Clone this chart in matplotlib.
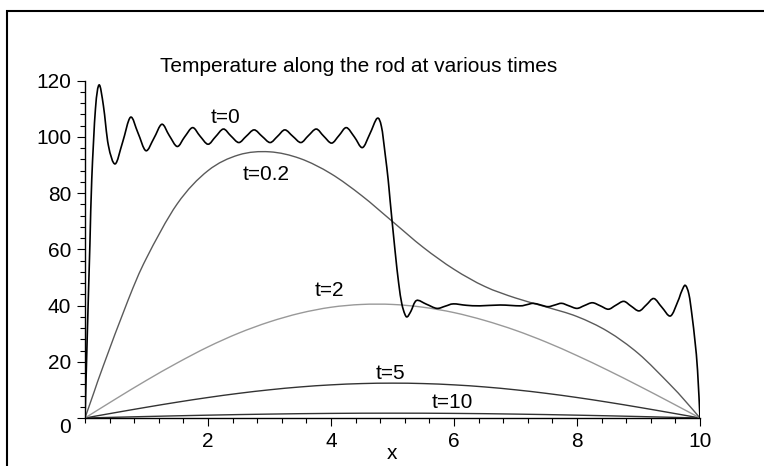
import numpy as np
import matplotlib
matplotlib.use('Agg')
from matplotlib import pyplot as plt
from matplotlib.patches import Rectangle, PathPatch
from matplotlib.path import Path
from matplotlib.ticker import MultipleLocator

plt.rcParams['font.family'] = ['Liberation Sans', 'DejaVu Sans']

title = 'Temperature along the rod at various times'

# t=0 (truncated series, with ringing)
x_t0 = [0.0, 0.04, 0.08, 0.11, 0.17, 0.23, 0.30, 0.38, 0.49, 0.61, 0.74, 0.86, 0.99,
        1.12, 1.25, 1.37, 1.50, 1.62, 1.75, 1.87, 2.00, 2.12, 2.25, 2.37, 2.50,
        2.62, 2.75, 2.88, 3.01, 3.13, 3.25, 3.38, 3.51, 3.63, 3.76, 3.88, 4.01,
        4.13, 4.25, 4.38, 4.51, 4.63, 4.75, 4.82, 4.88, 4.93, 4.96, 5.04, 5.10,
        5.15, 5.20, 5.24, 5.30, 5.39, 5.55, 5.72, 5.86, 5.99, 6.20, 6.42, 6.75,
        7.07, 7.18, 7.29, 7.41, 7.53, 7.64, 7.75, 7.87, 8.00, 8.12, 8.25, 8.38,
        8.51, 8.63, 8.76, 8.88, 9.01, 9.13, 9.25, 9.38, 9.52, 9.64, 9.70, 9.76,
        9.82, 9.87, 9.92, 9.96, 10.0]
u_t0 = [0, 32, 62, 85, 110, 118.5, 111, 97, 90.4, 98, 107, 101.5, 95.1,
        99.5, 104.5, 100.5, 96.6, 100, 103.3, 100.3, 97.4, 100, 102.8, 100.4, 98,
        100.2, 102.5, 100.2, 98, 100.2, 102.5, 100.2, 98, 100.4, 102.8, 100.3, 97.8,
        100.5, 103.3, 100, 96.2, 101, 106.6, 103.7, 94, 84.7, 77.6, 59.8, 48,
        40.8, 37, 36, 38, 41.8, 40.5, 39, 39.8, 40.6, 40.1, 39.9, 40.2,
        39.9, 40.3, 40.8, 40.2, 39.6, 40.2, 40.8, 39.9, 39, 40, 41, 39.9,
        38.7, 40.1, 41.5, 39.8, 38.1, 40.3, 42.5, 39.4, 36.3, 41.5, 45, 47.2,
        44, 36.5, 27, 17, 0]

# t=0.2
x_t02 = [0, 0.15, 0.3, 0.7, 1, 1.5, 2, 2.5, 3, 3.5, 4, 4.5, 5, 5.5, 6, 6.5, 7,
         7.5, 8, 8.5, 9, 9.5, 9.75, 10]
u_t02 = [0, 9.4, 18.7, 41.9, 56.9, 76.2, 88.0, 93.6, 94.7, 92.3, 86.9, 79.1, 69.9,
         60.7, 52.9, 46.8, 42.7, 39.5, 36.1, 30.8, 22.9, 12.2, 6.3, 0]

# t=2, t=5, t=10
x_half = [0, 0.5, 1, 1.5, 2, 2.5, 3, 3.5, 4, 4.5, 5, 5.5, 6, 6.5, 7, 7.5, 8, 8.5,
          9, 9.5, 10]
u_t2 = [0, 6.8, 13.4, 19.6, 25.3, 30.2, 34.2, 37.3, 39.4, 40.4, 40.4, 39.4, 37.5,
        34.7, 31.2, 27.0, 22.2, 17.0, 11.5, 5.8, 0]
u_t5 = [0, 1.94, 3.83, 5.63, 7.29, 8.77, 10.03, 11.05, 11.79, 12.25, 12.4, 12.25,
        11.79, 11.05, 10.03, 8.77, 7.29, 5.63, 3.83, 1.94, 0]
x_t10 = [0, 1, 2, 3, 4, 5, 6, 7, 8, 9, 10]
u_t10 = [0, 0.53, 1.01, 1.39, 1.64, 1.72, 1.64, 1.39, 1.01, 0.53, 0]


def smooth_curve(ax, xs, ys, **kw):
    # catmull-rom through the points, drawn as cubic bezier segments
    p = np.column_stack([xs, ys]).astype(float)
    p = np.vstack([p[0], p, p[-1]])
    verts = [p[1]]
    codes = [Path.MOVETO]
    for i in range(1, len(p) - 2):
        c1 = p[i] + (p[i + 1] - p[i - 1]) / 6.0
        c2 = p[i + 1] - (p[i + 2] - p[i]) / 6.0
        verts += [c1, c2, p[i + 1]]
        codes += [Path.CURVE4] * 3
    ax.add_patch(PathPatch(Path(verts, codes), fill=False, transform=ax.transData, **kw))


fig = plt.figure(figsize=(7.64, 4.66), dpi=100)
ax = fig.add_axes([85 / 764, 1 - 418 / 466, 615 / 764, 337.3 / 466])

smooth_curve(ax, x_t10, u_t10, ec='#333333', lw=1.0)
smooth_curve(ax, x_half, u_t5, ec='#333333', lw=1.0)
smooth_curve(ax, x_half, u_t2, ec='#999999', lw=1.0)
smooth_curve(ax, x_t02, u_t02, ec='#5a5a5a', lw=1.0)
smooth_curve(ax, x_t0, u_t0, ec='black', lw=1.2)

fs = 15
ax.text(2.28, 107, 't=0', ha='center', va='center', fontsize=fs)
ax.text(2.95, 86.8, 't=0.2', ha='center', va='center', fontsize=fs)
ax.text(3.97, 45.5, 't=2', ha='center', va='center', fontsize=fs)
ax.text(4.97, 15.9, 't=5', ha='center', va='center', fontsize=fs)
ax.text(5.98, 5.5, 't=10', ha='center', va='center', fontsize=fs)

ax.set_xlim(0, 10)
ax.set_ylim(0, 120)
for s in ['top', 'right']:
    ax.spines[s].set_visible(False)
for s in ['left', 'bottom']:
    ax.spines[s].set_linewidth(1.0)

ax.set_xticks([2, 4, 6, 8, 10])
ax.set_yticks([0, 20, 40, 60, 80, 100, 120])
ax.xaxis.set_minor_locator(MultipleLocator(0.4))
ax.yaxis.set_minor_locator(MultipleLocator(4))
ax.tick_params(which='major', length=6, width=0.8, labelsize=fs, pad=4)
ax.tick_params(which='minor', length=3.5, width=0.8)
for lbl in ax.get_yticklabels():
    if lbl.get_text() == '0':
        lbl.set_va('top')

ax.set_xlabel('x', fontsize=fs, labelpad=-5)

fig.text(160 / 764, 1 - 72 / 466, title, ha='left', va='baseline', fontsize=fs)

# outer frame
fig.add_artist(Rectangle((6.5 / 764, -1), 2, 1 + (1 - 10.5 / 466), transform=fig.transFigure,
                         fill=False, ec='black', lw=1.5))

fig.savefig('out.png', dpi=100)
